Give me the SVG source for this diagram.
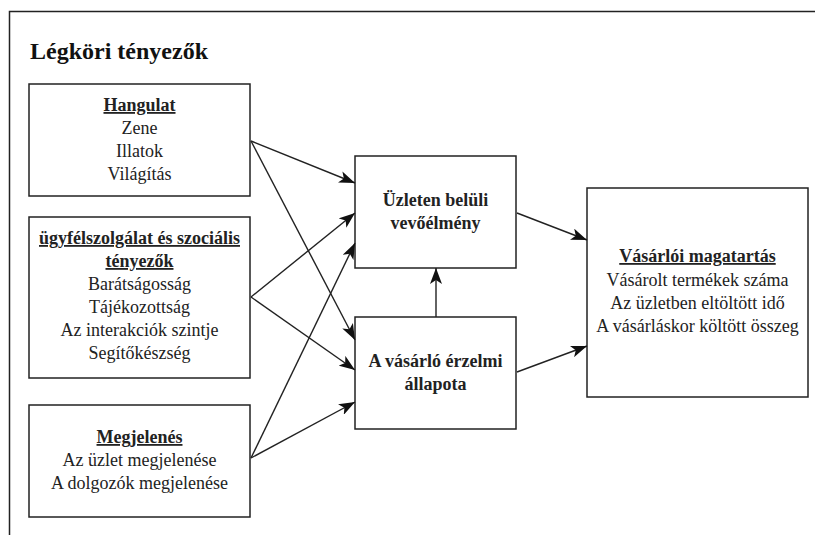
<svg xmlns="http://www.w3.org/2000/svg" width="815" height="535" viewBox="0 0 815 535" font-family="Liberation Serif,Times New Roman,serif">
<style>
.box{fill:#fff;stroke:#222;stroke-width:1.5}
.t{font-size:18px;fill:#222;text-anchor:middle}
.b{font-weight:bold}
.u{text-decoration:underline}
.c{stroke:#222;stroke-width:1.4;fill:none;marker-end:url(#ah)}
</style>
<defs>
<marker id="ah" viewBox="0 0 16 12" refX="16" refY="6" markerWidth="16" markerHeight="12" markerUnits="userSpaceOnUse" orient="auto">
<path d="M0,0 L16,6 L0,12 L4,6 Z" fill="#111"/>
</marker>
</defs>
<rect width="815" height="535" fill="#fff"/>
<path d="M9.5,535 V11.5 H815" fill="none" stroke="#222" stroke-width="1.5"/>
<text x="30" y="59" font-size="24" font-weight="bold" fill="#111">Légköri tényezők</text>
<g id="hangulat">
<rect class="box" x="29" y="84" width="221" height="112"/>
<text class="t b u" x="139.5" y="111">Hangulat</text>
<text class="t" x="139.5" y="134">Zene</text>
<text class="t" x="139.5" y="157">Illatok</text>
<text class="t" x="139.5" y="180">Világítás</text>
</g>
<g id="ugyfel">
<rect class="box" x="29" y="217" width="221" height="161"/>
<text class="t b u" x="139.5" y="244">ügyfélszolgálat és szociális</text>
<text class="t b u" x="139.5" y="267">tényezők</text>
<text class="t" x="139.5" y="290">Barátságosság</text>
<text class="t" x="139.5" y="313">Tájékozottság</text>
<text class="t" x="139.5" y="336">Az interakciók szintje</text>
<text class="t" x="139.5" y="359">Segítőkészség</text>
</g>
<g id="megjelenes">
<rect class="box" x="29" y="405" width="221" height="112"/>
<text class="t b u" x="139.5" y="443">Megjelenés</text>
<text class="t" x="139.5" y="466">Az üzlet megjelenése</text>
<text class="t" x="139.5" y="489">A dolgozók megjelenése</text>
</g>
<g id="uzleten">
<rect class="box" x="355" y="156" width="161" height="112"/>
<text class="t b" x="435.5" y="206">Üzleten belüli</text>
<text class="t b" x="435.5" y="229">vevőélmény</text>
</g>
<g id="erzelmi">
<rect class="box" x="355" y="317" width="161" height="112"/>
<text class="t b" x="435.5" y="367">A vásárló érzelmi</text>
<text class="t b" x="435.5" y="390">állapota</text>
</g>
<g id="vasarloi">
<rect class="box" x="587" y="188" width="221" height="209"/>
<text class="t b u" x="697.5" y="262">Vásárlói magatartás</text>
<text class="t" x="697.5" y="286">Vásárolt termékek száma</text>
<text class="t" x="697.5" y="309">Az üzletben eltöltött idő</text>
<text class="t" x="697.5" y="332">A vásárláskor költött összeg</text>
</g>
<g id="connectors">
<line class="c" x1="251" y1="141" x2="355" y2="183"/>
<line class="c" x1="251" y1="141" x2="355" y2="340"/>
<line class="c" x1="251" y1="297" x2="355" y2="213"/>
<line class="c" x1="251" y1="297" x2="355" y2="370"/>
<line class="c" x1="251" y1="458" x2="355" y2="243"/>
<line class="c" x1="251" y1="458" x2="355" y2="402"/>
<line class="c" x1="436" y1="317" x2="436" y2="268"/>
<line class="c" x1="517" y1="213" x2="587" y2="240"/>
<line class="c" x1="517" y1="372" x2="587" y2="346"/>
</g>
</svg>
